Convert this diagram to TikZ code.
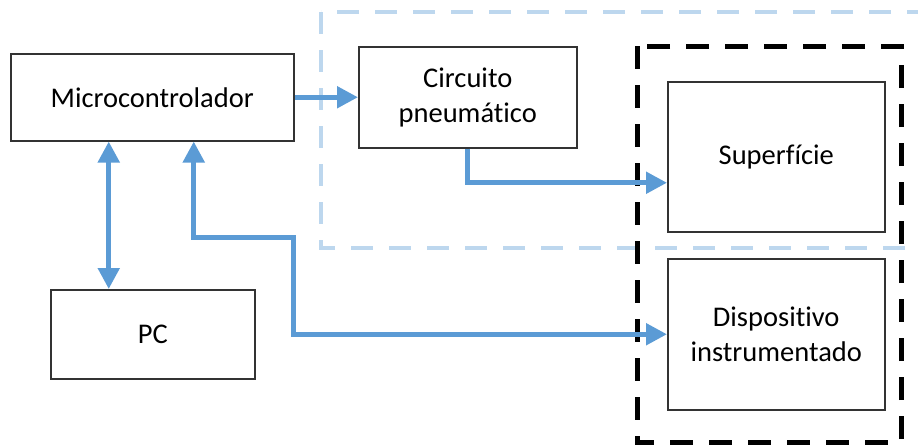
\documentclass[tikz,border=0pt]{standalone}
\usepackage{fontspec}
\setmainfont[RawFeature=-liga]{Carlito}
\usetikzlibrary{arrows.meta}
\definecolor{arrowblue}{HTML}{5B9BD5}
\definecolor{lightblue}{HTML}{BDD7EE}
\tikzset{
  blockbox/.style={draw=black!80, line width=1.5pt, fill=white, anchor=north west, inner sep=0pt,
    align=center, font=\fontsize{28.5}{35}\selectfont},
  flow/.style={draw=arrowblue, line width=5pt, {Triangle[length=21pt,width=21pt]}-{Triangle[length=21pt,width=21pt]}},
  flowone/.style={draw=arrowblue, line width=5pt, -{Triangle[length=21pt,width=21pt]}},
}
\begin{document}
\begin{tikzpicture}[x=1pt,y=-1pt]
\useasboundingbox (0,0) rectangle (918,447);
\begin{scope}
\clip (0,0) rectangle (918,447);
\draw[lightblue, line width=4.5pt, dash pattern=on 22pt off 16pt] (321,12) rectangle (940,248);
\end{scope}
\draw[black, line width=5pt, dash pattern=on 23pt off 16pt] (637,46) rectangle (901,442);
\node[blockbox, minimum width=283pt, minimum height=87pt] (micro) at (10,53) {Microcontrolador};
\node[blockbox, minimum width=218pt, minimum height=101pt] (circ) at (358,46) {Circuito\\pneumático};
\node[blockbox, minimum width=217pt, minimum height=150pt] (sup) at (667,81) {Superfície};
\node[blockbox, minimum width=217pt, minimum height=151pt] (disp) at (667,258) {Dispositivo\\instrumentado};
\node[blockbox, minimum width=204pt, minimum height=89pt] (pc) at (50,289) {PC};
\coordinate (k1) at (293,237);
\draw[flowone] (micro.east) -- (circ.west);
\draw[flow] ([xshift=-43.5pt]micro.south) -- ([xshift=-44pt]pc.north);
\draw[flowone] (circ.south) |- ([yshift=-26pt]sup.west);
\draw[flow] ([xshift=41.5pt]micro.south) |- (k1) |- (disp.west);
\end{tikzpicture}
\end{document}
